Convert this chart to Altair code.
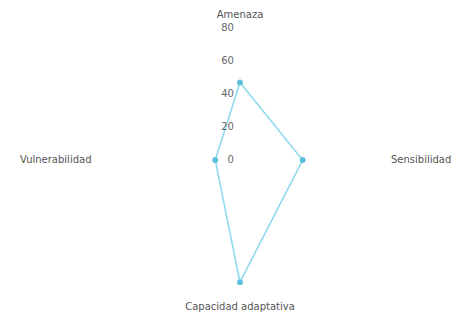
import altair as alt
import pandas as pd
import numpy as np

categories = ["Amenaza", "Sensibilidad", "Capacidad adaptativa", "Vulnerabilidad"]
values = [47, 38, 74, 15]
angles_deg = [0, 90, 180, 270]
tick_values = [0, 20, 40, 60, 80]
label_radius = [88, 91.5, 89, 90]

ang = np.radians(angles_deg)
pts = pd.DataFrame({
    "cat": categories + [categories[0]],
    "order": list(range(5)),
    "x": list(np.array(values) * np.sin(ang)) + [values[0] * np.sin(ang[0])],
    "y": list(np.array(values) * np.cos(ang)) + [values[0] * np.cos(ang[0])],
})
labels = pd.DataFrame({
    "cat": categories,
    "x": np.array(label_radius) * np.sin(ang),
    "y": np.array(label_radius) * np.cos(ang),
})
ticks = pd.DataFrame({"v": tick_values, "t": [str(t) for t in tick_values], "x": [0] * 5})

xs = alt.Scale(domain=[-140.6, 128.5], nice=False, zero=False)
ys = alt.Scale(domain=[-92.1, 92.1], nice=False, zero=False)
X = lambda f="x": alt.X(f"{f}:Q", scale=xs, axis=None)
Y = lambda f="y": alt.Y(f"{f}:Q", scale=ys, axis=None)

line = alt.Chart(pts).mark_line(color="#8fdaec", strokeWidth=1.6).encode(
    x=X(), y=Y(), order="order:Q")
dots = alt.Chart(pts.iloc[:4]).mark_circle(color="#5cc0dd", size=34, opacity=1).encode(
    x=X(), y=Y())

tick_text = alt.Chart(ticks).mark_text(
    align="right", baseline="middle", dx=-6, fontSize=10, color="#666", font="DejaVu Sans"
).encode(x=X(), y=Y("v"), text="t:N")

def lab(cat, align, baseline):
    return alt.Chart(labels[labels.cat == cat]).mark_text(
        align=align, baseline=baseline, fontSize=10, color="#555", font="DejaVu Sans"
    ).encode(x=X(), y=Y(), text="cat:N")

chart = alt.layer(
    line, dots, tick_text,
    lab("Amenaza", "center", "middle"),
    lab("Sensibilidad", "left", "middle"),
    lab("Capacidad adaptativa", "center", "middle"),
    lab("Vulnerabilidad", "right", "middle"),
).properties(width=444, height=304, padding=0, autosize="none").configure_view(stroke=None)

chart.save("out.html", embed_options={"renderer": "svg", "actions": False})
